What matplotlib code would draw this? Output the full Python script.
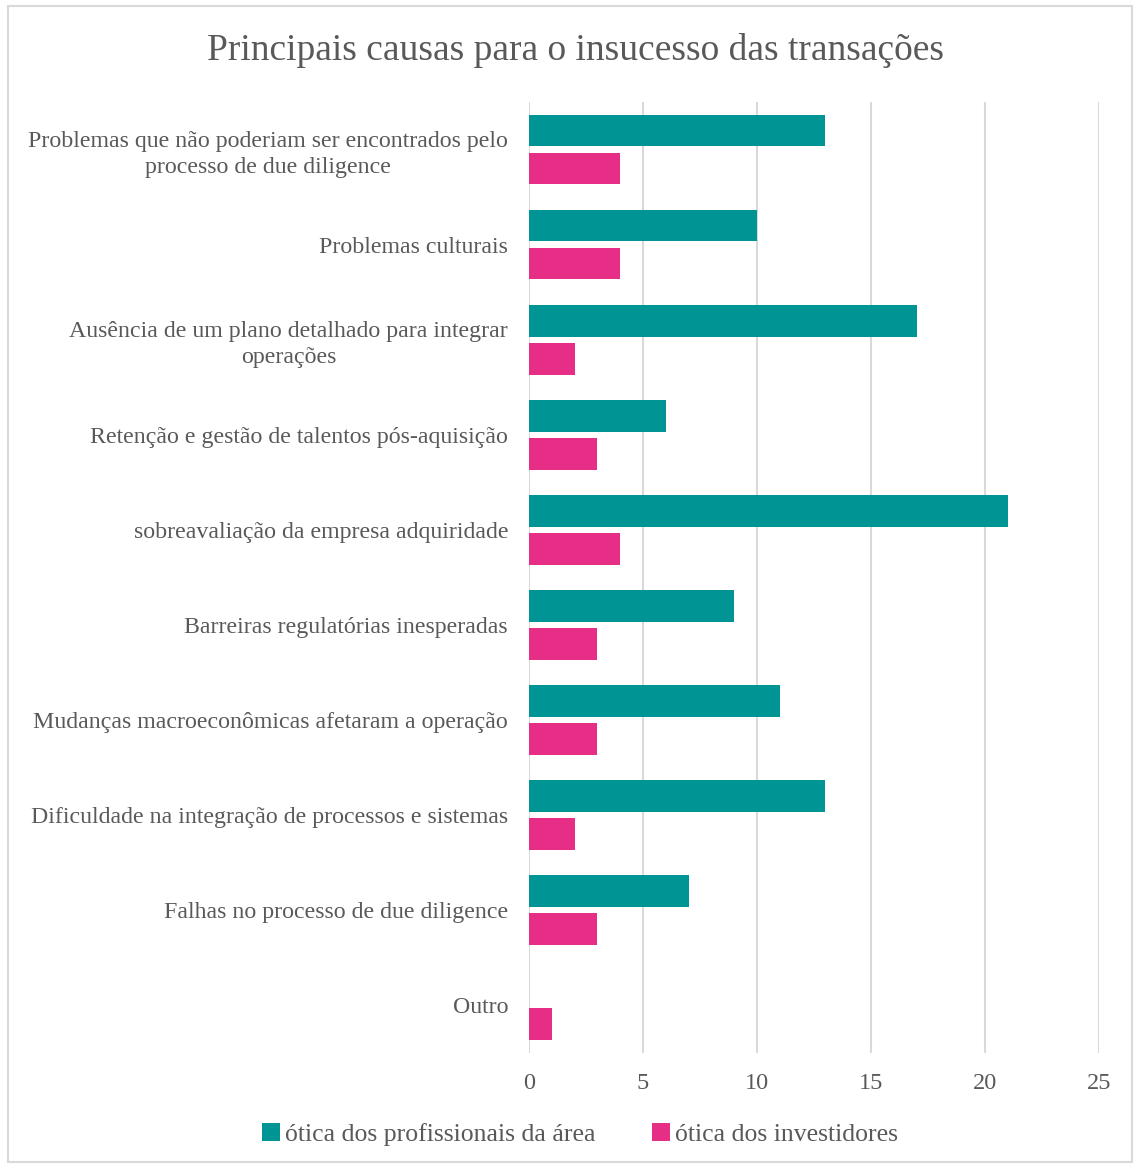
import matplotlib.pyplot as plt
from matplotlib.patches import Rectangle
import numpy as np

plt.rcParams['font.family'] = ['Liberation Serif', 'DejaVu Serif']

categorias = [
    'Problemas que não poderiam ser encontrados pelo\nprocesso de due diligence',
    'Problemas culturais',
    'Ausência de um plano detalhado para integrar\noperações',
    'Retenção e gestão de talentos pós-aquisição',
    'sobreavaliação da empresa adquiridade',
    'Barreiras regulatórias inesperadas',
    'Mudanças macroeconômicas afetaram a operação',
    'Dificuldade na integração de processos e sistemas',
    'Falhas no processo de due diligence',
    'Outro',
]
profissionais = [13, 10, 17, 6, 21, 9, 11, 13, 7, 0]
investidores = [4, 4, 2, 3, 4, 3, 3, 2, 3, 1]

cor_prof = '#009494'
cor_inv = '#E62E87'
cinza = '#595959'

fig = plt.figure(figsize=(11.39, 11.66), dpi=100)
ax = fig.add_axes([0.4644, 0.0973, 0.5005, 0.815])

y = np.arange(len(categorias))
h = 0.33
ax.barh(y - 0.2, profissionais, height=h, color=cor_prof, label='ótica dos profissionais da área', zorder=3)
ax.barh(y + 0.2, investidores, height=h, color=cor_inv, label='ótica dos investidores', zorder=3)

ax.set_ylim(len(categorias) - 0.5, -0.5)
ax.set_xlim(0, 25)
ax.set_xticks(range(0, 26, 5))
ax.set_yticks(y)
ax.set_yticklabels(categorias, fontsize=17.2, color=cinza, multialignment='center',
                   linespacing=1.3)
ax.tick_params(axis='y', length=0, pad=15)
ax.tick_params(axis='x', length=0, labelsize=17.5, labelcolor=cinza, pad=15)
ax.grid(axis='x', color='#D9D9D9', linewidth=1.5, zorder=0)
for s in ax.spines.values():
    s.set_visible(False)

fig.text(0.505, 0.957, 'Principais causas para o insucesso das transações', fontsize=27,
         color=cinza, ha='center', va='center')

leg = ax.legend(loc='center', bbox_to_anchor=(0.509, 0.027), bbox_transform=fig.transFigure,
                ncol=2, frameon=False, fontsize=18.5, handlelength=0.7, handleheight=0.7,
                handletextpad=0.2, columnspacing=2.2)
for t in leg.get_texts():
    t.set_color(cinza)

fig.patches.append(Rectangle((8 / 1139, 4 / 1166), 1124 / 1139, 1156 / 1166,
                             transform=fig.transFigure, fill=False,
                             edgecolor='#D9D9D9', linewidth=1.5))

fig.savefig('out.png', dpi=100)
